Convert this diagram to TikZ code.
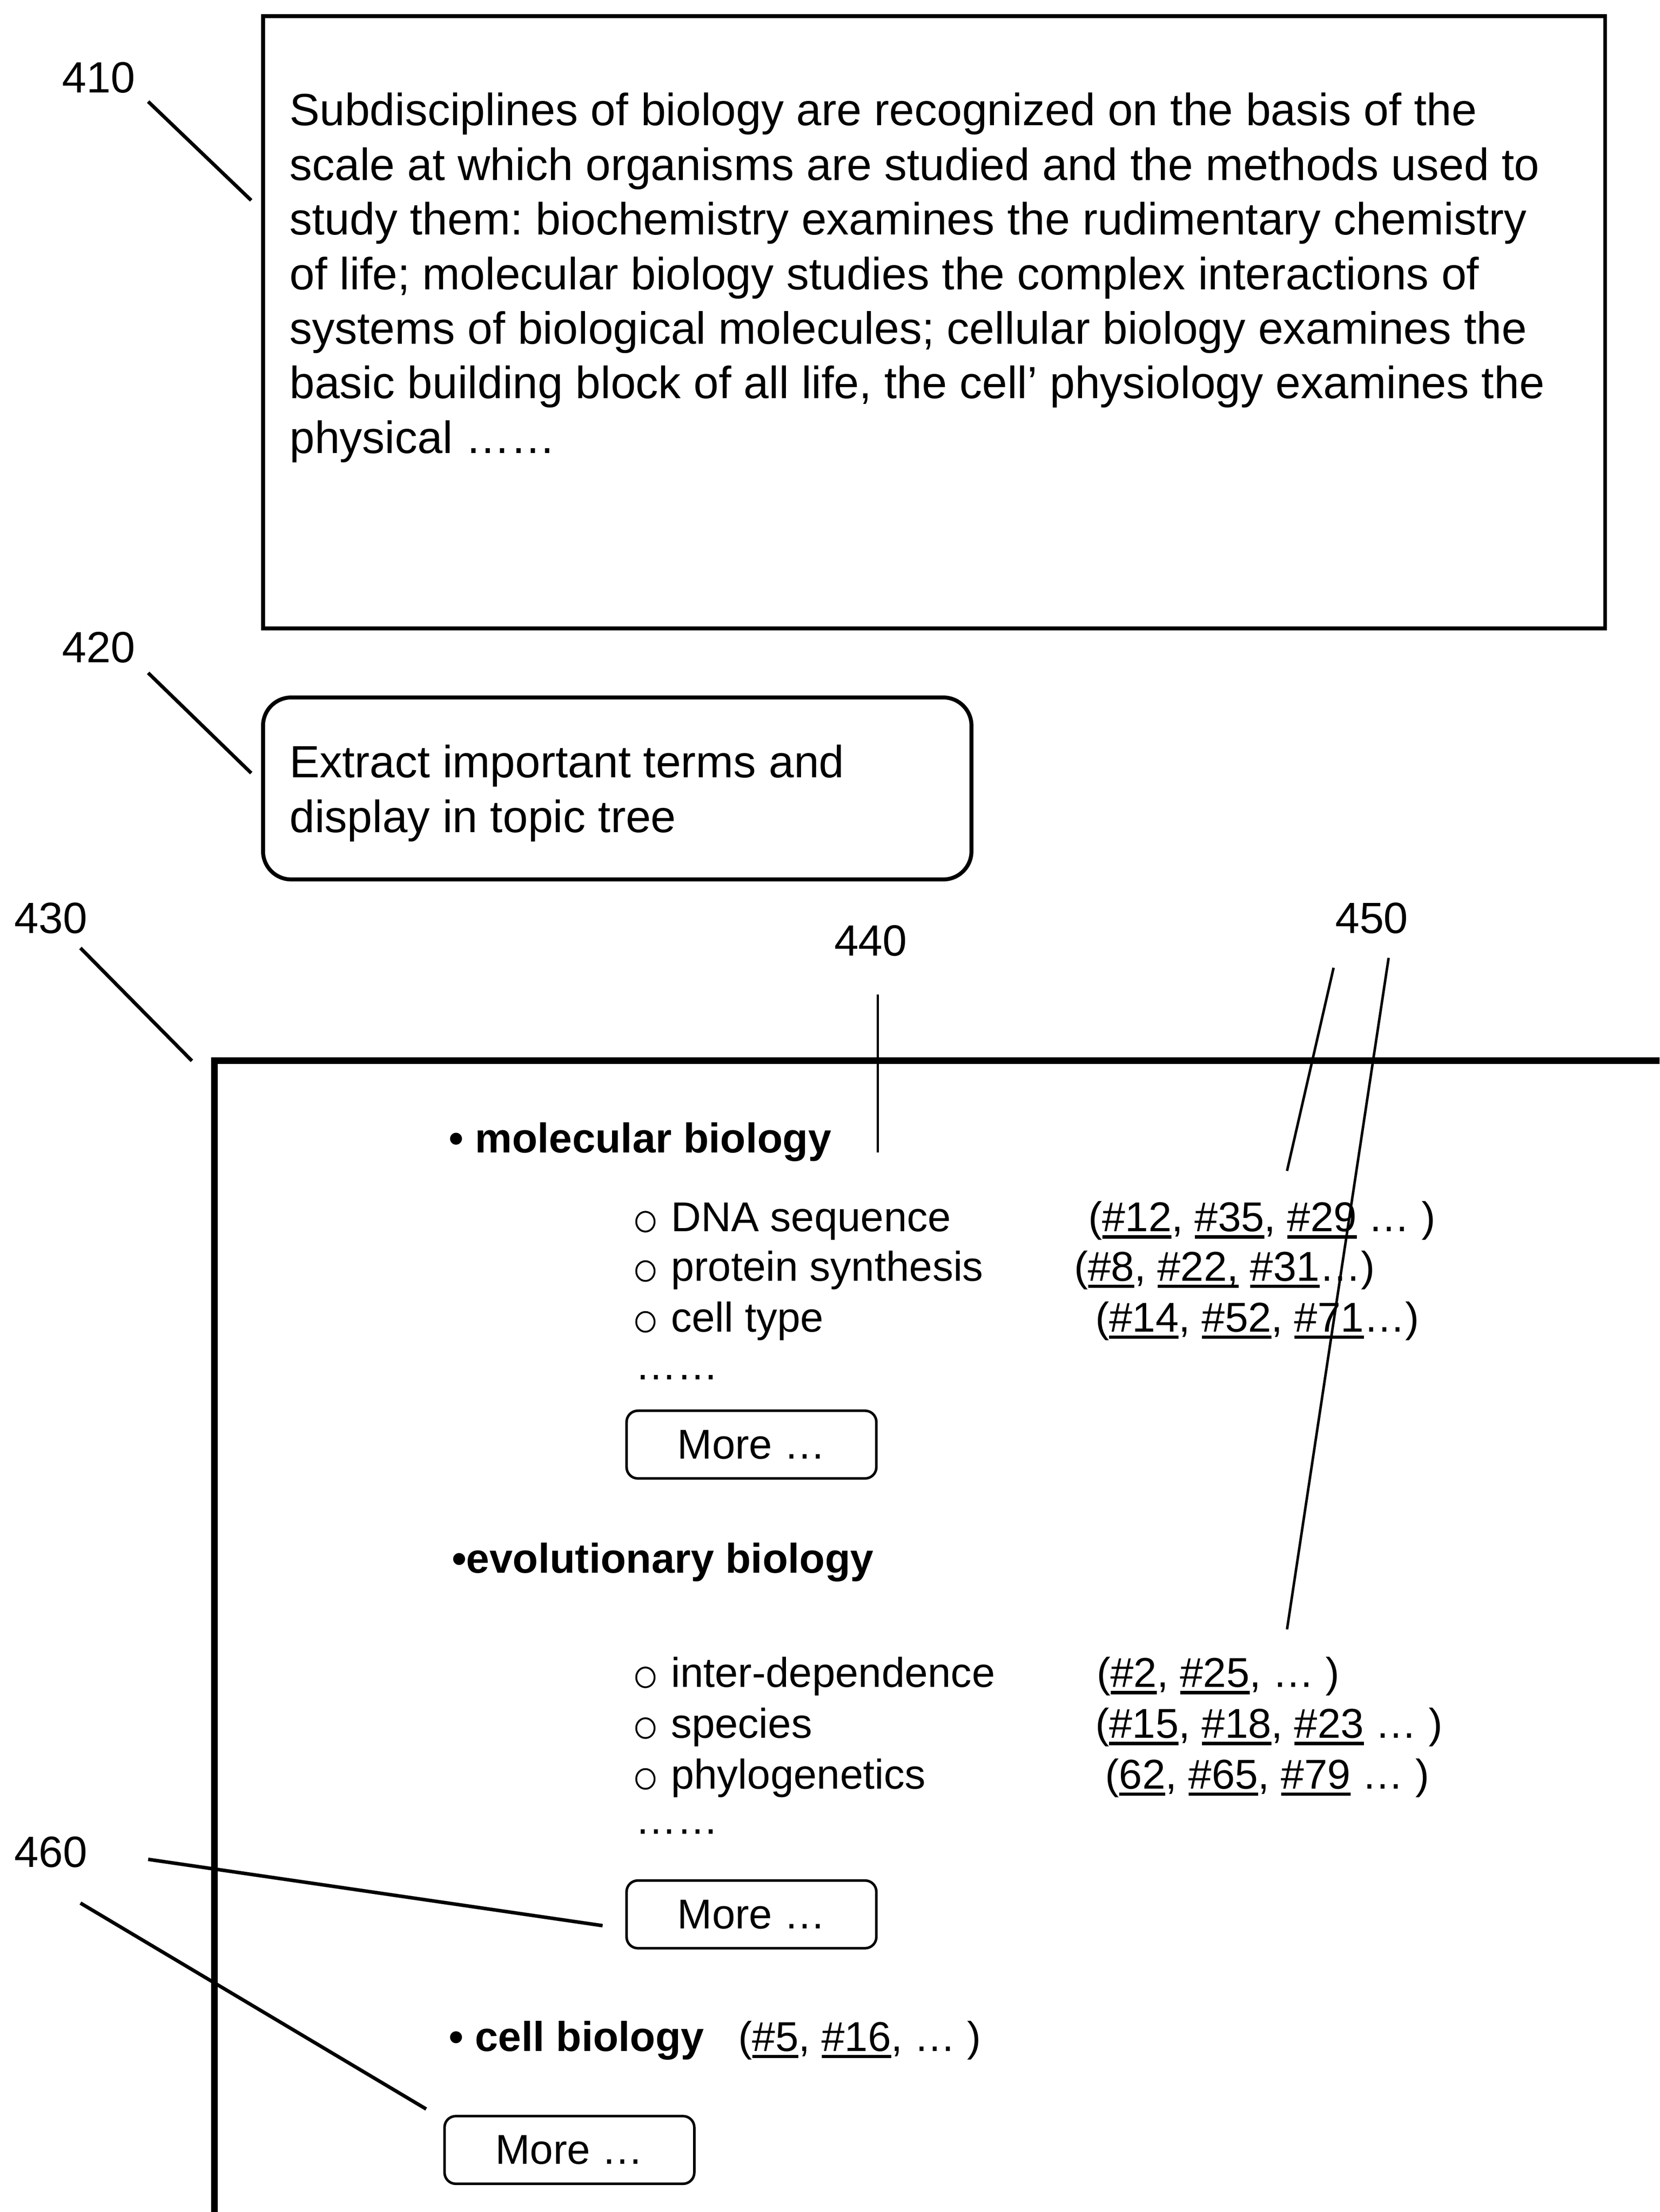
\documentclass[tikz,border=0pt]{standalone}
\usepackage{fontspec}
\setmainfont{Liberation Sans}
\usepackage{tikz}
\usetikzlibrary{positioning}
\frenchspacing

\tikzset{
  box/.style={draw, line width=2.8pt, anchor=north west, inner sep=0pt},
  txt/.style={anchor=base west, inner sep=0pt, font=\fontsize{32}{39}\selectfont},
  item/.style={anchor=base west, inner sep=0pt, font=\fontsize{29.5}{36}\selectfont},
  head/.style={item, font=\fontsize{29.5}{36}\selectfont\bfseries},
  reflabel/.style={inner sep=0pt, font=\fontsize{31}{37}\selectfont},
  leader/.style={line width=2.5pt},
  thin leader/.style={line width=1.8pt},
  morebtn/.style={draw, line width=1.8pt, rounded corners=8pt, minimum width=177pt, minimum height=48pt, inner sep=0pt, font=\fontsize{29.5}{36}\selectfont},
}
\newcommand{\ul}[1]{\setbox0\hbox{#1}\rlap{\rule[-5pt]{\wd0}{2.4pt}}\box0\relax}
\newcommand{\subbullet}{\tikz[baseline=0pt]\draw[line width=1.3pt] (0pt,7pt) ellipse (6.5pt and 7pt);\hspace{11pt}}

\begin{document}
\begin{tikzpicture}[x=1pt,y=-1pt]
\useasboundingbox (0,0) rectangle (1176,1568);

\node[box, minimum width=951pt, minimum height=434pt] (box410) at (185,10) {};
\foreach \txt [count=\i] in {{Subdisciplines of biology are recognized on the basis of the},
  {scale at which organisms are studied and the methods used to},
  {study them: biochemistry examines the rudimentary chemistry},
  {of life; molecular biology studies the complex interactions of},
  {systems of biological molecules; cellular biology examines the},
  {basic building block of all life, the cell’ physiology examines the},
  {physical ……}}
  \node[txt] (line\i) at (205,50.3+38.7*\i) {\txt};

\node[box, rounded corners=20pt, minimum width=502pt, minimum height=129pt] (box420) at (185,493) {};
\node[txt] (extract1) at (205,551) {Extract important terms and};
\node[txt] (extract2) at (205,590) {display in topic tree};

\draw[line width=4.7pt] (152,1568) -- (152,752) -- (1176,752);

\node[head] (mol) at (318,817) {• molecular biology};
\node[item] (dna) at (450,873) {\subbullet DNA sequence};
\node[item] (prot) at (450,908) {\subbullet protein synthesis};
\node[item] (ctype) at (450,944) {\subbullet cell type};
\node[item] (dots1) at (450,978) {……};
\node[item] (ref1) at (771,873) {(\ul{\#12}, \ul{\#35}, \ul{\#29} … )};
\node[item] (ref2) at (761,908) {(\ul{\#8}, \ul{\#22,} \ul{\#31}…)};
\node[item] (ref3) at (776,944) {(\ul{\#14}, \ul{\#52}, \ul{\#71}…)};
\node[morebtn] (more1) at (532.5,1024) {More …};

\node[head] (evo) at (320,1115) {•evolutionary biology};
\node[item] (inter) at (450,1196) {\subbullet inter-dependence};
\node[item] (spec) at (450,1232) {\subbullet species};
\node[item] (phylo) at (450,1268) {\subbullet phylogenetics};
\node[item] (dots2) at (450,1300) {……};
\node[item] (ref4) at (777,1196) {(\ul{\#2}, \ul{\#25}, … )};
\node[item] (ref5) at (776,1232) {(\ul{\#15}, \ul{\#18}, \ul{\#23} … )};
\node[item] (ref6) at (783,1268) {(\ul{62}, \ul{\#65}, \ul{\#79} … )};
\node[morebtn] (more2) at (532.5,1357) {More …};

\node[head] (cell) at (318,1454) {• cell biology};
\node[item] (ref7) at (523,1454) {(\ul{\#5}, \ul{\#16}, … )};
\node[morebtn] (more3) at (403.5,1524) {More …};

\node[reflabel] (lab410) at (70,55) {410};
\node[reflabel] (lab420) at (70,459) {420};
\node[reflabel] (lab430) at (36,651) {430};
\node[reflabel] (lab440) at (617,667) {440};
\node[reflabel] (lab450) at (972,651) {450};
\node[reflabel] (lab460) at (36,1313) {460};

\coordinate (a410) at (105,72);   \coordinate (b410) at (178,142);
\coordinate (a420) at (105,477);  \coordinate (b420) at (178,548);
\coordinate (a430) at (57,672);   \coordinate (b430) at (136,752);
\coordinate (a440) at (622,705);  \coordinate (b440) at (622,817);
\coordinate (a450) at (945,686);  \coordinate (b450) at (912,830);
\coordinate (c450) at (984,679);  \coordinate (d450) at (912,1155);
\coordinate (a460) at (105,1318); \coordinate (b460) at (427,1365);
\coordinate (c460) at (57,1349);  \coordinate (d460) at (302,1495);

\draw[leader] (a410) -- (b410);
\draw[leader] (a420) -- (b420);
\draw[leader] (a430) -- (b430);
\draw[thin leader] (a440) -- (b440);
\draw[thin leader] (a450) -- (b450);
\draw[thin leader] (c450) -- (d450);
\draw[leader] (a460) -- (b460);
\draw[leader] (c460) -- (d460);
\end{tikzpicture}
\end{document}
